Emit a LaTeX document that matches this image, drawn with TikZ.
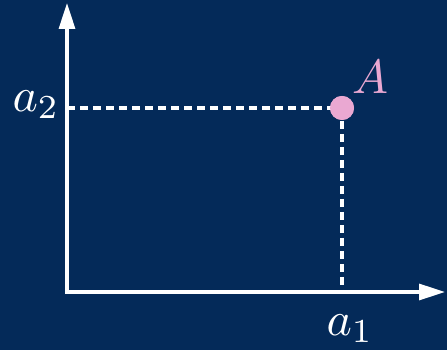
\documentclass[tikz,border=0pt]{standalone}
\usepackage{graphicx}
\usetikzlibrary{arrows.meta}
\definecolor{bg}{RGB}{4,42,89}
\definecolor{pinkA}{RGB}{234,168,210}
\begin{document}
\begin{tikzpicture}[x=1pt,y=1pt,
  axis/.style={white,line width=3.2pt,-{Triangle[length=26pt,width=16pt]}},
  guide/.style={white,line width=3.2pt,dash pattern=on 8pt off 5pt},
  lbl/.style={white,inner sep=0pt},
  ]
\fill[bg] (0,0) rectangle (447,350);
\useasboundingbox (0,0) rectangle (447,350);
\coordinate (O) at (67,58);
\coordinate (ytop) at (67,347);
\coordinate (xend) at (445,58);
\coordinate (ya) at (67,242);
\coordinate (xa) at (342,58);
\node[circle,fill=pinkA,minimum size=24pt,inner sep=0pt] (A) at (342,242) {};
\draw[guide] (ya) -- (A.center);
\draw[guide] (A.center) -- (xa);
\fill[pinkA] (A) circle (12pt);
\draw[axis] (67,56.4) -- (ytop);
\draw[axis] (65.4,58) -- (xend);
\node[lbl] (a2) at (36,245) {\scalebox{4.8}{$a_2$}};
\node[lbl] (a1) at (350,21) {\scalebox{4.8}{$a_1$}};
\node[lbl,text=pinkA] (Al) at (370,273) {\scalebox{4.8}{$A$}};
\end{tikzpicture}
\end{document}
